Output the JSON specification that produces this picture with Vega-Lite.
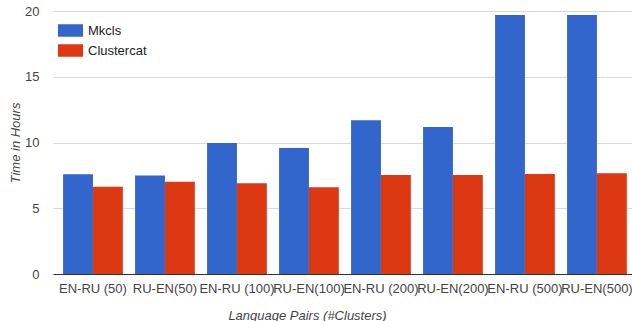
{
  "$schema": "https://vega.github.io/schema/vega-lite/v6.json",
  "width": 579,
  "height": 263,
  "autosize": {"type": "none"},
  "padding": {"left": 53, "top": 11, "right": 0, "bottom": 47},
  "background": "white",
  "config": {
    "font": "Liberation Sans",
    "view": {"stroke": null},
    "axis": {"labelFont": "Liberation Sans", "titleFont": "Liberation Sans"}
  },
  "data": {
    "values": [
      {"pair": "EN-RU (50)", "series": "Mkcls", "hours": 7.58},
      {"pair": "EN-RU (50)", "series": "Clustercat", "hours": 6.64},
      {"pair": "RU-EN(50)", "series": "Mkcls", "hours": 7.5},
      {"pair": "RU-EN(50)", "series": "Clustercat", "hours": 7.02},
      {"pair": "EN-RU (100)", "series": "Mkcls", "hours": 9.96},
      {"pair": "EN-RU (100)", "series": "Clustercat", "hours": 6.9},
      {"pair": "RU-EN(100)", "series": "Mkcls", "hours": 9.58},
      {"pair": "RU-EN(100)", "series": "Clustercat", "hours": 6.6},
      {"pair": "EN-RU (200)", "series": "Mkcls", "hours": 11.7},
      {"pair": "EN-RU (200)", "series": "Clustercat", "hours": 7.53},
      {"pair": "RU-EN(200)", "series": "Mkcls", "hours": 11.18},
      {"pair": "RU-EN(200)", "series": "Clustercat", "hours": 7.53},
      {"pair": "EN-RU (500)", "series": "Mkcls", "hours": 19.7},
      {"pair": "EN-RU (500)", "series": "Clustercat", "hours": 7.6},
      {"pair": "RU-EN(500)", "series": "Mkcls", "hours": 19.7},
      {"pair": "RU-EN(500)", "series": "Clustercat", "hours": 7.66}
    ]
  },
  "mark": {"type": "bar"},
  "encoding": {
    "x": {
      "field": "pair",
      "type": "nominal",
      "sort": null,
      "scale": {"paddingInner": 0.17, "paddingOuter": 0.106, "align": 0.66},
      "axis": {
        "title": "Language Pairs (#Clusters)",
        "titleFontStyle": "italic",
        "titleFontWeight": "normal",
        "titleFontSize": 13,
        "titleColor": "#444",
        "titleX": 254,
        "titleY": 45,
        "titleAlign": "center",
        "titleBaseline": "alphabetic",
        "labelAngle": 0,
        "labelFontSize": 13,
        "labelColor": "#444",
        "labelPadding": 8,
        "labelOverlap": false,
        "labelLimit": 0,
        "labelBound": false,
        "labelFlush": false,
        "ticks": false,
        "domainColor": "#333",
        "domainWidth": 1
      }
    },
    "xOffset": {"field": "series", "type": "nominal", "sort": ["Mkcls", "Clustercat"], "scale": {"paddingInner": 0, "paddingOuter": 0}},
    "y": {
      "field": "hours",
      "type": "quantitative",
      "scale": {"domain": [0, 20], "nice": false},
      "axis": {
        "values": [0, 5, 10, 15, 20],
        "title": "Time in Hours",
        "titleFontStyle": "italic",
        "titleFontWeight": "normal",
        "titleFontSize": 13,
        "titleColor": "#444",
        "titleX": -38,
        "titleY": 131.5,
        "titleAlign": "center",
        "titleBaseline": "middle",
        "labelFontSize": 13,
        "labelColor": "#444",
        "labelPadding": 14,
        "ticks": false,
        "domain": false,
        "gridColor": "#d9d9d9",
        "gridWidth": 1
      }
    },
    "color": {
      "field": "series",
      "type": "nominal",
      "sort": ["Mkcls", "Clustercat"],
      "scale": {"domain": ["Mkcls", "Clustercat"], "range": ["#3366cc", "#dc3912"]},
      "legend": {
        "title": null,
        "orient": "none",
        "legendX": 5,
        "legendY": 7,
        "padding": 0,
        "symbolType": "M-1,-0.5H1V0.5H-1Z",
        "symbolSize": 625,
        "symbolStrokeWidth": 0,
        "symbolOpacity": 1,
        "labelFontSize": 13,
        "labelColor": "#222",
        "labelOffset": 5,
        "rowPadding": 0
      }
    }
  }
}
